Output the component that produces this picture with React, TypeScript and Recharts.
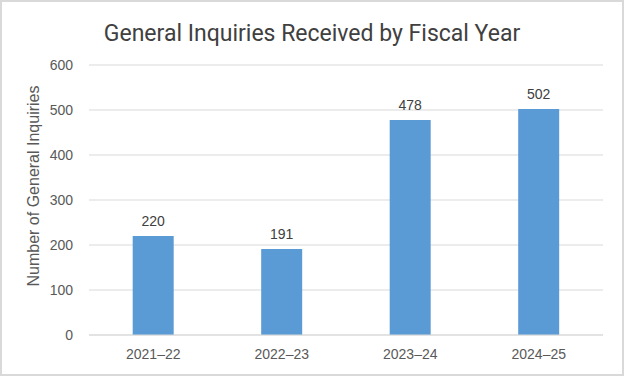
import { Bar, BarChart, CartesianGrid, LabelList, XAxis, YAxis } from "recharts";

const years = ["2021–22", "2022–23", "2023–24", "2024–25"];
const inquiries = [220, 191, 478, 502];
const yTicks = [0, 100, 200, 300, 400, 500, 600];

const data = years.map((year, i) => ({ year, inquiries: inquiries[i] }));

const axisFont = "'Liberation Sans', Arial, sans-serif";

export default function App() {
  return (
    <div
      style={{
        position: "absolute",
        left: 0,
        top: 0,
        width: 624,
        height: 376,
        boxSizing: "border-box",
        border: "2px solid #d9d9d9",
        background: "#fff",
      }}
    >
      <div
        style={{
          position: "absolute",
          left: 0,
          right: 0,
          top: 18,
          textAlign: "center",
          fontFamily: "Roboto, sans-serif",
          fontSize: 23,
          color: "#404040",
        }}
      >
        General Inquiries Received by Fiscal Year
      </div>
      <div style={{ position: "absolute", left: -2, top: -2 }}>
        <BarChart
          width={624}
          height={376}
          data={data}
          margin={{ top: 65, right: 21, bottom: 11, left: 0 }}
          barCategoryGap="34%"
        >
          <CartesianGrid vertical={false} stroke="#d9d9d9" />
          <XAxis
            dataKey="year"
            height={30}
            axisLine={{ stroke: "#d9d9d9" }}
            tickLine={false}
            tickMargin={8}
            tick={{ fill: "#595959", fontSize: 14, fontFamily: axisFont }}
          />
          <YAxis
            width={89}
            domain={[0, 600]}
            ticks={yTicks}
            axisLine={false}
            tickLine={false}
            tickMargin={10}
            tick={{ fill: "#595959", fontSize: 14, fontFamily: axisFont }}
            label={{
              value: "Number of General Inquiries",
              angle: -90,
              position: "center",
              dx: -11,
              dy: -14,
              fill: "#595959",
              fontSize: 16,
              fontFamily: axisFont,
            }}
          />
          <Bar dataKey="inquiries" fill="#5b9bd5" isAnimationActive={false}>
            <LabelList
              dataKey="inquiries"
              position="top"
              offset={10}
              fill="#404040"
              fontSize={14}
              fontFamily={axisFont}
            />
          </Bar>
        </BarChart>
      </div>
    </div>
  );
}
